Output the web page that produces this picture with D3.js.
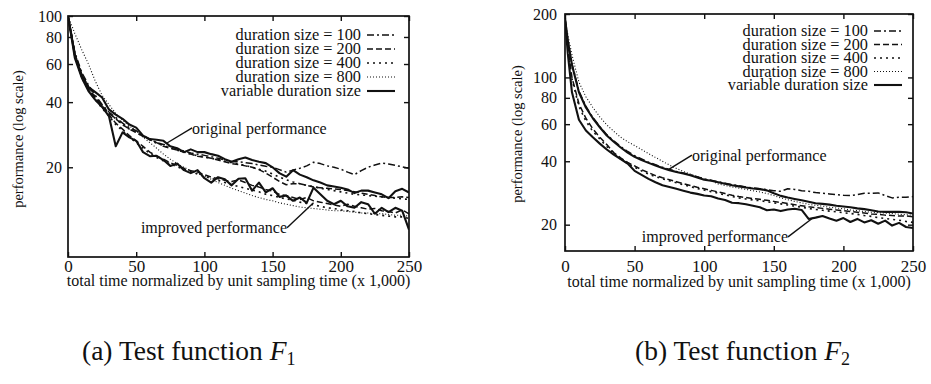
<!DOCTYPE html>
<html>
<head>
<meta charset="utf-8">
<script src="https://cdn.jsdelivr.net/npm/d3@7/dist/d3.min.js"></script>
<style>
body { margin: 0; background: #fff; }
text { font-family: "Liberation Serif", "Times New Roman", serif; fill: #111; }
</style>
</head>
<body>
<svg id="fig" width="931" height="384"></svg>
<script>
// sampling times (x 1,000) shared by every curve
var times = [0, 2, 5, 10, 15, 20, 25, 30, 35, 40, 45, 50, 55, 60, 65, 70, 75, 80, 85, 90, 95, 100,
    105, 110, 115, 120, 125, 130, 135, 140, 145, 150, 155, 160, 165, 170, 175, 180, 185, 190, 195, 200,
    205, 210, 215, 220, 225, 230, 235, 240, 245, 250];

var xTicks = [0, 50, 100, 150, 200, 250];
var yTicksF1 = [20, 40, 60, 80, 100];
var yTicksF2 = [20, 40, 60, 80, 100, 200];

var legendLabels = ["duration size = 100", "duration size = 200", "duration size = 400",
    "duration size = 800", "variable duration size"];
var legendKeys = ["d100", "d200", "d400", "d800", "variable"];

// F1, original performance group
var f1Orig100 = [100, 86, 68, 55, 48, 43, 39, 36, 34, 32, 30.5, 29.5, 28, 27, 26, 25.5, 25, 24.3, 23.8, 23.3, 23, 22.7,
    22.4, 22, 21.6, 21.2, 21.2, 21, 20.8, 20.5, 20.2, 20, 19.5, 19, 19.4, 19.8, 20.3, 21.1, 20.8, 20.3, 20, 19.6,
    19, 18.5, 19.3, 20, 20.5, 20.9, 20.7, 20.4, 20.1, 19.8];
var f1Orig200 = [100, 85, 67, 54, 47, 42, 38.5, 35.5, 33.5, 31.5, 30, 29, 27.8, 26.8, 26, 25, 24.5, 24, 23.5, 23, 22.5, 22.3,
    22, 21.6, 21.2, 20.8, 20.6, 20.3, 20, 19.5, 18.8, 18, 17.2, 16.6, 16.8, 16.8, 16.5, 16.2, 16.1, 16, 15.9, 15.8,
    15.6, 15.4, 15.2, 15, 14.8, 14.6, 14.5, 14.5, 14.6, 14.5];
var f1Orig400 = [100, 85, 67, 54, 47, 42.5, 38.5, 35.5, 33.5, 31.5, 30, 29, 27.8, 26.8, 25.8, 25.2, 24.6, 24, 23.5, 23, 22.6, 22.3,
    22, 21.7, 21.3, 21, 20.7, 20.4, 20, 19.6, 19.2, 18.6, 18, 17.5, 17.1, 16.8, 16.5, 16.3, 16, 15.8, 15.6, 15.4,
    15.2, 15, 14.9, 14.8, 14.7, 14.6, 14.5, 14.4, 14.3, 14.2];
var f1OrigVar = [100, 85, 66, 53, 47, 44.5, 42, 37, 35, 33.5, 31.5, 30.5, 28, 27, 26.8, 26.5, 25, 24.5, 23.5, 24.2, 23.5, 23.5,
    23, 22.6, 21.8, 21.2, 21.8, 22.2, 21.6, 21.2, 20.9, 20, 18.8, 18.1, 19.4, 18.5, 18, 17.4, 17, 16.5, 16.3, 16.1,
    15.8, 15.2, 15.6, 15.6, 15.3, 15, 14.4, 15.5, 15.9, 15.3];
// F1, improved performance group
var f1Imp200 = [100, 85, 66, 53, 46, 41.5, 38, 35, 32, 30, 28, 26.5, 25, 23.5, 22.5, 21.8, 21, 20.4, 19.8, 19.3, 19, 18.5,
    18, 17.7, 17.4, 17.2, 17.5, 17, 16.5, 16.2, 15.8, 15.5, 15, 14.8, 14.5, 14.2, 14.5, 14, 13.8, 13.6, 13.4, 13.2,
    13.5, 13.2, 13, 12.8, 12.9, 12.6, 12.5, 12.3, 12.7, 12.2];
var f1Imp400 = [100, 84, 65, 52, 45.5, 41, 37.5, 34.5, 31.5, 29.5, 27.5, 26, 24.5, 23.2, 22.2, 21.4, 20.7, 20.1, 19.6, 19.1, 18.6, 18.2,
    17.8, 17.4, 17, 16.6, 16.3, 16, 15.7, 15.4, 15, 14.8, 14.5, 14.3, 14.1, 13.8, 13.6, 13.4, 13.2, 13, 12.9, 12.7,
    12.6, 12.5, 12.3, 12.2, 12.1, 12, 11.9, 11.8, 11.8, 11.6];
var f1Imp800 = [100, 93, 83, 70, 60, 50, 43, 39, 35.5, 33, 31, 29.5, 27.5, 26, 24.5, 23, 21.8, 20.8, 20, 19.3, 18.7, 18.2,
    17.6, 17, 16.5, 16, 15.6, 15.2, 14.8, 14.5, 14.2, 14, 13.7, 13.5, 13.3, 13.1, 13, 12.9, 12.8, 12.7, 12.6, 12.6,
    12.5, 12.4, 12.3, 12.3, 12.2, 12.2, 12.1, 12, 12, 11.9];
var f1ImpVar = [100, 84, 64, 52, 45, 41, 38, 34.5, 25, 29, 27.5, 26.5, 23.5, 22.5, 22.6, 21.6, 20.3, 20.8, 19.4, 18.8, 19.4, 17.8,
    17, 18, 17.6, 16.5, 17.7, 17.8, 15.6, 17, 15.3, 16, 14.6, 14.8, 14, 14.5, 13.7, 16.1, 15, 14, 13.5, 14,
    13.2, 13, 13.8, 13.5, 12.2, 13, 12.4, 13, 12.6, 10.3];

// F2 curves
var f2Orig100 = [190, 150, 116, 86, 73, 64.5, 58.5, 53.5, 50, 47, 44.5, 42.5, 41, 39.6, 38.5, 37.5, 36.6, 35.8, 35.2, 34.5, 33.8, 33,
    32.5, 32, 31.5, 31, 30.6, 30.2, 29.9, 29.6, 29.3, 29, 28.8, 29.6, 29.4, 29, 28.8, 28.4, 28.2, 28, 27.8, 27.6,
    27.5, 27.8, 28.2, 28.2, 28.3, 27.5, 26.8, 27, 27, 27.2];
var f2Orig800 = [190, 160, 128, 95, 81, 72, 65, 59.5, 55.5, 52, 49.5, 47.5, 45.5, 43.5, 41.7, 40, 38.4, 37, 35.8, 34.8, 33.8, 33,
    32.4, 31.2, 30.7, 30.2, 29.8, 29.4, 29, 28.6, 28.1, 27.5, 26.8, 26.3, 25.8, 25.4, 25, 24.7, 24.5, 24.2, 24, 23.8,
    23.5, 23.3, 23.1, 22.9, 22.8, 22.7, 22.6, 22.4, 22.3, 22.2];
var f2OrigVar = [190, 150, 115, 85, 72, 64, 58, 53, 49.5, 46.5, 44, 42, 40.5, 39.3, 38.2, 37.2, 36.3, 35.6, 35, 34.3, 33.5, 32.7,
    32.3, 31.8, 31.3, 30.8, 30.4, 30, 29.7, 29.5, 29.1, 28.2, 27.4, 26.9, 26.5, 26.1, 25.7, 25.3, 25.1, 24.9, 24.6, 24.4,
    24.2, 23.9, 23.7, 23.4, 23.1, 23, 23, 23, 22.9, 22.6];
var f2Mid200 = [190, 140, 100, 75, 64, 57, 52, 48, 44, 41.5, 39.5, 38, 36.5, 35.3, 34.2, 33.4, 32.7, 32, 31.3, 30.7, 30.1, 29.6,
    29.1, 28.6, 28.1, 27.6, 27.2, 26.9, 26.6, 26.4, 26.1, 25.8, 25.5, 25.2, 24.9, 24.6, 24.3, 24.1, 23.9, 23.7, 23.5, 23.3,
    23.1, 22.9, 22.7, 22.5, 22.4, 22.2, 22.1, 22, 22, 21.8];
var f2Mid400 = [190, 138, 98, 73, 62, 55.5, 51, 47, 43.5, 41, 39, 37.5, 36, 34.8, 33.8, 33, 32.3, 31.6, 30.9, 30.3, 29.7, 29.2,
    28.7, 28.2, 27.7, 27.2, 26.8, 26.5, 26.2, 26, 25.7, 25.4, 25.1, 24.8, 24.5, 24.2, 23.9, 23.6, 23.4, 23.2, 23, 22.8,
    22.6, 22.4, 22.1, 21.9, 21.6, 21.4, 21.2, 21, 20.7, 20.5];
var f2ImpVar = [190, 130, 85, 63, 56, 52, 48.5, 45.5, 43, 41, 39, 36, 34.5, 33, 31.8, 30.8, 30.2, 29.6, 29, 28.4, 28, 27.5,
    27.3, 26.6, 26.2, 25.4, 25.3, 25, 24.6, 24.2, 23.4, 23.6, 23.2, 23.6, 23.8, 23.5, 21.3, 21.6, 22, 21.4, 20.9, 21.5,
    20.6, 21.3, 20.5, 21, 20.2, 20.9, 19.8, 20.4, 19.5, 19.3];

var styles = {
    d100: { dash: "7,3,2,3", width: 1.5 },
    d200: { dash: "6,3", width: 1.5 },
    d400: { dash: "2,4", width: 1.6 },
    d800: { dash: "1,2", width: 1.1 },
    variable: { dash: null, width: 2.1 }
};

var svg = d3.select("#fig");

function drawPanel(p) {
    var g = svg.append("g");
    var x = d3.scaleLinear().domain([0, 250]).range([p.left, p.right]);
    var y = d3.scaleLog().domain(p.yDomain).range([p.bottom, p.top]);

    g.append("clipPath").attr("id", p.id + "-clip")
        .append("rect")
        .attr("x", p.left).attr("y", p.top)
        .attr("width", p.right - p.left).attr("height", p.bottom - p.top);

    // ticks on all four sides, pointing inward
    var fmt = d3.format("d");
    var xb = g.append("g").attr("transform", "translate(0," + p.bottom + ")")
        .call(d3.axisBottom(x).tickValues(xTicks).tickSizeInner(-5).tickSizeOuter(0).tickPadding(p.xPad).tickFormat(fmt));
    g.append("g").attr("transform", "translate(0," + p.top + ")")
        .call(d3.axisTop(x).tickValues(xTicks).tickSizeInner(-5).tickSizeOuter(0).tickFormat(""));
    var yl = g.append("g").attr("transform", "translate(" + p.left + ",0)")
        .call(d3.axisLeft(y).tickValues(p.yTicks).tickSizeInner(-5).tickSizeOuter(0).tickPadding(p.yPad).tickFormat(fmt));
    g.append("g").attr("transform", "translate(" + p.right + ",0)")
        .call(d3.axisRight(y).tickValues(p.yTicks).tickSizeInner(-5).tickSizeOuter(0).tickFormat(""));
    g.selectAll(".domain").remove();
    g.selectAll(".tick line").attr("stroke", "#111").attr("stroke-width", 1.4);
    g.selectAll(".tick text").attr("font-family", null).attr("fill", "#111");
    xb.selectAll("text").style("font-size", "17px");
    yl.selectAll("text").style("font-size", "16px");

    g.append("rect")
        .attr("x", p.left).attr("y", p.top)
        .attr("width", p.right - p.left).attr("height", p.bottom - p.top)
        .attr("fill", "none").attr("stroke", "#111").attr("stroke-width", 1.7);

    var line = d3.line()
        .x(function(d, i) { return x(times[i]); })
        .y(function(d) { return y(d); });

    g.append("g").attr("clip-path", "url(#" + p.id + "-clip)")
        .selectAll("path")
        .data(p.series)
        .enter()
        .append("path")
        .attr("d", function(s) { return line(s.values); })
        .attr("fill", "none")
        .attr("stroke", "#111")
        .attr("stroke-width", function(s) { return styles[s.key].width; })
        .attr("stroke-dasharray", function(s) { return styles[s.key].dash; })
        .attr("stroke-linejoin", "round");

    // legend
    var leg = g.append("g");
    legendLabels.forEach(function(lbl, i) {
        var ly = p.legendY + i * p.legendStep;
        leg.append("text").attr("x", p.legendX).attr("y", ly).attr("dy", "0.33em")
            .attr("text-anchor", "end").style("font-size", "16.3px").text(lbl);
        leg.append("line").attr("x1", p.legendX + 6).attr("x2", p.legendX + 34)
            .attr("y1", ly).attr("y2", ly)
            .attr("stroke", "#111")
            .attr("stroke-width", styles[legendKeys[i]].width)
            .attr("stroke-dasharray", styles[legendKeys[i]].dash);
    });

    // arrows pointing at the two groups of curves
    p.notes.forEach(function(n) {
        g.append("line")
            .attr("x1", x(n.t)).attr("y1", y(n.v))
            .attr("x2", x(n.pt)).attr("y2", y(n.pv))
            .attr("stroke", "#111").attr("stroke-width", 1.4);
        g.append("text")
            .attr("x", x(n.t)).attr("y", y(n.v)).attr("dy", "0.35em")
            .attr("text-anchor", n.anchor)
            .style("font-size", "16px")
            .text(n.label);
    });

    // axis titles
    g.append("text")
        .attr("x", (p.left + p.right) / 2).attr("y", p.xTitleY)
        .attr("text-anchor", "middle").style("font-size", "16px")
        .text("total time normalized by unit sampling time (x 1,000)");
    g.append("text")
        .attr("transform", "translate(" + p.yTitleX + "," + p.yTitleY + ") rotate(-90)")
        .attr("text-anchor", "middle").style("font-size", "14.5px")
        .text("performance (log scale)");

    // caption
    var cap = g.append("text").attr("x", p.capX).attr("y", 360).style("font-size", "27.5px");
    cap.append("tspan").text(p.capPrefix + " Test function ");
    cap.append("tspan").attr("font-style", "italic").text("F");
    cap.append("tspan").attr("dy", 5).style("font-size", "18px").text(p.capSub);
}

drawPanel({
    id: "f1", left: 68, right: 409, top: 16, bottom: 257,
    yDomain: [7.7, 100], yTicks: yTicksF1, xPad: 3, yPad: 6,
    series: [
        { key: "d100", values: f1Orig100 },
        { key: "d200", values: f1Orig200 },
        { key: "d400", values: f1Orig400 },
        { key: "variable", values: f1OrigVar },
        { key: "d200", values: f1Imp200 },
        { key: "d400", values: f1Imp400 },
        { key: "d800", values: f1Imp800 },
        { key: "variable", values: f1ImpVar }
    ],
    legendX: 361, legendY: 35, legendStep: 14,
    notes: [
        { label: "original performance", t: 91, v: 30.4, pt: 72.6, pv: 25.9, anchor: "start" },
        { label: "improved performance", t: 160.6, v: 10.5, pt: 180, pv: 13.7, anchor: "end" }
    ],
    xTitleY: 286, yTitleX: 23, yTitleY: 139,
    capX: 82, capPrefix: "(a)", capSub: "1"
});

drawPanel({
    id: "f2", left: 565, right: 913, top: 14, bottom: 251,
    yDomain: [15, 200], yTicks: yTicksF2, xPad: 9, yPad: 8,
    series: [
        { key: "d100", values: f2Orig100 },
        { key: "d800", values: f2Orig800 },
        { key: "variable", values: f2OrigVar },
        { key: "d200", values: f2Mid200 },
        { key: "d400", values: f2Mid400 },
        { key: "variable", values: f2ImpVar }
    ],
    legendX: 868, legendY: 31, legendStep: 13.5,
    notes: [
        { label: "original performance", t: 91.2, v: 42.8, pt: 74, pv: 36.4, anchor: "start" },
        { label: "improved performance", t: 160.2, v: 17.5, pt: 178, pv: 21.5, anchor: "end" }
    ],
    xTitleY: 287, yTitleX: 522, yTitleY: 134,
    capX: 635, capPrefix: "(b)", capSub: "2"
});
</script>
</body>
</html>
